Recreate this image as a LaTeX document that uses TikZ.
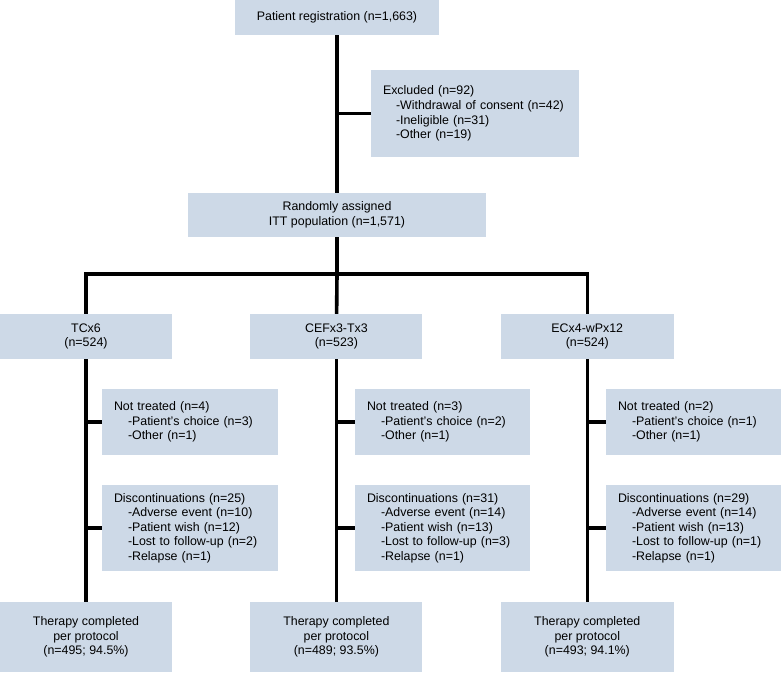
\documentclass[tikz,border=0pt]{standalone}
\usepackage{fontspec}
\setmainfont{Liberation Sans}
\usepackage{xcolor}
\usepackage{tikz}
\usetikzlibrary{positioning}

\definecolor{boxblue}{RGB}{205,217,231}

\begin{document}
\begin{tikzpicture}[x=1pt, y=-1pt,
        box/.style={fill=boxblue, inner sep=0pt, align=center,
            font=\fontsize{12.4}{14.6}\selectfont},
        sidebox/.style={box, inner xsep=12pt, align=left},
        link/.style={line width=3.6pt}]
        \useasboundingbox (0,0) rectangle (781,672);

        \node[box, minimum width=204pt, minimum height=35pt] (reg) at (337,17.5) {Patient registration (n=1,663)};
        \node[sidebox, text width=184pt, minimum height=87pt] (excl) at (475,113.5)
            {Excluded (n=92)\\
             \hspace*{13pt}-Withdrawal of consent (n=42)\\
             \hspace*{13pt}-Ineligible (n=31)\\
             \hspace*{13pt}-Other (n=19)};
        \node[box, minimum width=298pt, minimum height=44pt] (rand) at (337,215) {Randomly assigned\\ITT population (n=1,571)};
        \coordinate (split) at (337,274);

        % treatment arms
        \node[box, minimum width=172pt, minimum height=45pt] (tc) at (86,336.5) {TCx6\\(n=524)};
        \node[box, minimum width=172pt, minimum height=45pt, right=78pt of tc] (cef) {CEFx3-Tx3\\(n=523)};
        \node[box, minimum width=173pt, minimum height=45pt, right=78pt of cef] (ec) {ECx4-wPx12\\(n=524)};

        \node[sidebox, text width=152pt, minimum height=66pt] (nt1) at (190,422)
            {Not treated (n=4)\\
             \hspace*{14pt}-Patient's choice (n=3)\\
             \hspace*{14pt}-Other (n=1)};
        \node[sidebox, text width=151pt, minimum height=66pt] (nt2) at (442.5,422)
            {Not treated (n=3)\\
             \hspace*{14pt}-Patient's choice (n=2)\\
             \hspace*{14pt}-Other (n=1)};
        \node[sidebox, text width=151pt, minimum height=66pt] (nt3) at (693.5,422)
            {Not treated (n=2)\\
             \hspace*{14pt}-Patient's choice (n=1)\\
             \hspace*{14pt}-Other (n=1)};

        \node[sidebox, text width=152pt, minimum height=86pt] (dc1) at (190,528)
            {Discontinuations (n=25)\\
             \hspace*{14pt}-Adverse event (n=10)\\
             \hspace*{14pt}-Patient wish (n=12)\\
             \hspace*{14pt}-Lost to follow-up (n=2)\\
             \hspace*{14pt}-Relapse (n=1)};
        \node[sidebox, text width=151pt, minimum height=86pt] (dc2) at (442.5,528)
            {Discontinuations (n=31)\\
             \hspace*{14pt}-Adverse event (n=14)\\
             \hspace*{14pt}-Patient wish (n=13)\\
             \hspace*{14pt}-Lost to follow-up (n=3)\\
             \hspace*{14pt}-Relapse (n=1)};
        \node[sidebox, text width=151pt, minimum height=86pt] (dc3) at (693.5,528)
            {Discontinuations (n=29)\\
             \hspace*{14pt}-Adverse event (n=14)\\
             \hspace*{14pt}-Patient wish (n=13)\\
             \hspace*{14pt}-Lost to follow-up (n=1)\\
             \hspace*{14pt}-Relapse (n=1)};

        \node[box, minimum width=172pt, minimum height=70pt] (pp1) at (86,637) {Therapy completed\\per protocol\\(n=495; 94.5\%)};
        \node[box, minimum width=172pt, minimum height=70pt] (pp2) at (cef |- pp1) {Therapy completed\\per protocol\\(n=489; 93.5\%)};
        \node[box, minimum width=173pt, minimum height=70pt] (pp3) at (ec |- pp1) {Therapy completed\\per protocol\\(n=493; 94.1\%)};

        \draw[link] (reg) -- (rand);
        \draw[link] (reg.south |- excl.west) -- (excl);
        \draw[link] (rand) -- (split);
        \draw[link] (tc) |- (split) -| (ec);
        \draw[link] (split) -- (cef);

        \draw[link]
            (tc) -- (pp1)
            (tc.south |- nt1.west) -- (nt1)
            (tc.south |- dc1.west) -- (dc1)
            (cef) -- (pp2)
            (cef.south |- nt2.west) -- (nt2)
            (cef.south |- dc2.west) -- (dc2)
            (ec) -- (pp3)
            (ec.south |- nt3.west) -- (nt3)
            (ec.south |- dc3.west) -- (dc3)
            ;
\end{tikzpicture}
\end{document}
